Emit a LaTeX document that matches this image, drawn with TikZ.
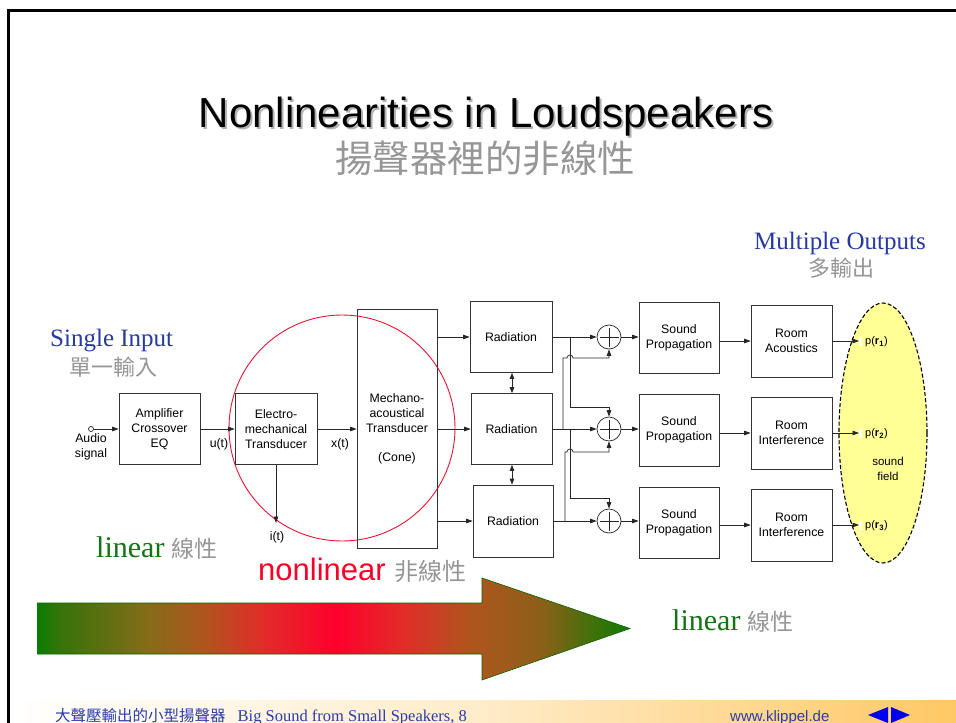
\documentclass[tikz,border=0pt]{standalone}
\usepackage{fontspec}
\setmainfont{Liberation Sans}
\newfontfamily\tmsfont{Liberation Serif}
\newfontfamily\cjkfont{Noto Sans CJK TC}
\usetikzlibrary{arrows.meta,shapes.geometric}
\definecolor{titleblue}{RGB}{38,58,160}
\definecolor{cjkgray}{RGB}{150,150,150}
\definecolor{lingreen}{RGB}{20,115,20}
\definecolor{nlred}{RGB}{250,0,40}
\definecolor{circred}{RGB}{235,20,50}
\definecolor{fieldyellow}{RGB}{255,255,150}
\definecolor{footorange}{RGB}{255,200,100}
\definecolor{footblue}{RGB}{40,60,170}
\definecolor{navblue}{RGB}{0,0,240}
\definecolor{agreen}{RGB}{10,125,0}
\definecolor{ag2}{RGB}{55,115,10}
\definecolor{aolive}{RGB}{135,108,25}
\definecolor{abrown}{RGB}{175,85,30}
\definecolor{ared1}{RGB}{225,45,40}
\definecolor{ared}{RGB}{255,0,45}
\definecolor{ahead}{RGB}{140,95,25}
\pgfdeclarehorizontalshading{bigarrowshade}{100bp}{color(0bp)=(agreen); color(25bp)=(agreen); color(27bp)=(ag2); color(34.5bp)=(aolive); color(39bp)=(abrown); color(44bp)=(ared1); color(50.2bp)=(ared); color(56bp)=(ared1); color(61.5bp)=(abrown); color(67.5bp)=(ahead); color(75bp)=(agreen); color(100bp)=(agreen)}
\newcommand{\boxfont}{\fontsize{12.3}{15.3}\selectfont}
\newcommand{\shadowtext}[1]{\rlap{\raisebox{-2pt}{\hspace{2pt}\textcolor{black!30}{#1}}}#1}
\begin{document}
\begin{tikzpicture}[x=1pt,y=-1pt,
  box/.style={draw=black!80, line width=0.7pt, minimum width=81pt, minimum height=71pt, align=center, font=\boxfont, inner sep=1pt},
  lbl/.style={font=\boxfont, align=center, inner sep=0pt},
  arr/.style={-{Triangle[length=6.5pt,width=4.5pt]}, line width=0.7pt, draw=black!85},
  dblarr/.style={{Triangle[length=6pt,width=4.5pt]}-{Triangle[length=6pt,width=4.5pt]}, line width=0.7pt, draw=black!85},
  ln/.style={line width=0.7pt, draw=black!85},
  sumc/.style={circle, draw=black!85, line width=0.7pt, minimum size=24pt, inner sep=0pt}]
\useasboundingbox (0,0) rectangle (956,723);
\fill[white] (0,0) rectangle (956,723);
% footer band
\shade[left color=white, right color=footorange, middle color=footorange!35] (10,700) rectangle (956,723);
% frame
\draw[line width=3pt, black] (8,723) -- (8,10) -- (956,10);

% title
\node[font=\fontsize{42}{44}\selectfont, anchor=base, inner sep=0pt] (title) at (486,127) {\shadowtext{Nonlinearities in Loudspeakers}};
\node[font=\cjkfont\fontsize{37.5}{38}\selectfont, text=cjkgray] (subtitle) at (485,158) {揚聲器裡的非線性};

% side headings
\node[anchor=base west, inner sep=0pt, font=\tmsfont\fontsize{25}{26}\selectfont, text=titleblue] (mo) at (754,249) {Multiple Outputs};
\node[font=\cjkfont\fontsize{22}{23}\selectfont, text=cjkgray] (mozh) at (841,268) {多輸出};
\node[anchor=base west, inner sep=0pt, font=\tmsfont\fontsize{25}{26}\selectfont, text=titleblue] (si) at (50,346) {Single Input};
\node[font=\cjkfont\fontsize{22}{23}\selectfont, text=cjkgray] (sizh) at (113,367) {單一輸入};

% red circle
\draw[circred, line width=0.9pt] (342,428) circle [radius=113];

% input chain
\node[circle, draw=black!85, line width=0.7pt, minimum size=5pt, inner sep=0pt] (ain) at (91,429) {};
\node[lbl] (ainl) at (91,447) {Audio\\signal};
\node[box] (amp) at (159.5,429) {Amplifier\\Crossover\\EQ};
\node[box, minimum width=82pt] (emt) at (276,429) {Electro-\\mechanical\\Transducer};
\node[box, minimum width=80pt, minimum height=239pt] (mat) at (397,428.5) {Mechano-\\acoustical\\Transducer\\[13pt](Cone)};
\draw[arr] (ain) -- (amp);
\draw[arr] (amp) -- (emt);
\draw[arr] (emt) -- (mat.west |- emt.east);
\node[lbl] (ul) at (219,444) {u(t)};
\node[lbl] (xl) at (340,444) {x(t)};
\node[lbl] (il) at (277,537) {i(t)};
\coordinate (itip) at (276,523);
\draw[arr] (emt.south) -- (itip);

% radiation
\node[box, minimum width=82pt] (R1) at (511,337) {Radiation};
\node[box, minimum width=81pt] (R2) at (511.5,429) {Radiation};
\node[box, minimum width=80pt, minimum height=72pt] (R3) at (513,521) {Radiation};
\draw[arr] (mat.east |- R1.west) -- (R1.west);
\draw[arr] (mat.east |- R2.west) -- (R2.west);
\draw[arr] (mat.east |- R3.west) -- (R3.west);
\draw[dblarr] (R1.south -| 512,0) -- (R2.north -| 512,0);
\draw[dblarr] (R2.south -| 512,0) -- (R3.north -| 512,0);

% summing points
\node[sumc] (s1) at (609,337) {};
\node[sumc] (s2) at (609,429) {};
\node[sumc] (s3) at (609,521) {};
\foreach \s in {s1,s2,s3}{
  \draw[ln] ([xshift=-9.5pt]\s.center) -- ([xshift=9.5pt]\s.center);
  \draw[ln] ([yshift=-9.5pt]\s.center) -- ([yshift=9.5pt]\s.center);
}
\draw[arr] (R1.east) -- (s1.west);
\draw[arr] (R2.east) -- (s2.west);
\draw[arr] (R3.east) -- (s3.west);
\coordinate (b1) at (570,337);
\coordinate (b2a) at (563,429);
\coordinate (b2b) at (570,429);
\coordinate (b3) at (565,521);
\draw[arr] (b1) -- (570,407) -| (s2.north);
\draw[arr] (b2b) -- (570,498) -| (s3.north);
\draw[arr] (b2a) -- (563,358) -- (567,358) arc[start angle=180, end angle=360, radius=3] -| (s1.south);
\draw[arr] (b3) -- (565,452) -- (567,452) arc[start angle=180, end angle=360, radius=3] -| (s2.south);

% sound propagation
\node[box, minimum width=80pt] (SP1) at (679,337.5) {Sound\\Propagation};
\node[box, minimum width=80pt, minimum height=72pt] (SP2) at (679,430) {Sound\\Propagation};
\node[box, minimum width=80pt] (SP3) at (679,522.5) {Sound\\Propagation};
\draw[arr] (s1.east) -- (SP1.west |- s1.east);
\draw[arr] (s2.east) -- (SP2.west |- s2.east);
\draw[arr] (s3.east) -- (SP3.west |- s3.east);

% room
\node[box, minimum height=72pt] (RA) at (791.5,341) {Room\\Acoustics};
\node[box, minimum height=72pt] (RI2) at (791.5,433) {Room\\Interference};
\node[box, minimum height=72pt] (RI3) at (791.5,525) {Room\\Interference};
\draw[arr] (SP1.east |- RA.west) -- (RA.west);
\draw[arr] (SP2.east |- RI2.west) -- (RI2.west);
\draw[arr] (SP3.east |- RI3.west) -- (RI3.west);

% sound field
\draw[fill=fieldyellow, line width=1.1pt, dash pattern=on 4pt off 2.2pt] (883,433) ellipse [x radius=44, y radius=130];
\coordinate (p1) at (859,341);
\coordinate (p2) at (859,433);
\coordinate (p3) at (859,525);
\draw[arr] (RA.east) -- (p1);
\draw[arr] (RI2.east) -- (p2);
\draw[arr] (RI3.east) -- (p3);
\foreach \p in {p1,p2,p3}{ \fill[white] ([yshift=-4.5pt]\p) rectangle ([xshift=3pt,yshift=4.5pt]\p); }
\node[anchor=west, lbl, font=\fontsize{11}{13}\selectfont] (pr1) at (865,342) {p(\textbf{r}\textsubscript{\textbf{1}})};
\node[anchor=west, lbl, font=\fontsize{11}{13}\selectfont] (pr2) at (865,434) {p(\textbf{r}\textsubscript{\textbf{2}})};
\node[anchor=west, lbl, font=\fontsize{11}{13}\selectfont] (pr3) at (865,526) {p(\textbf{r}\textsubscript{\textbf{3}})};
\node[lbl, font=\fontsize{11.5}{14.5}\selectfont] (sf) at (888,469) {sound\\field};

% big arrow
\shade[shading=bigarrowshade] (37,603) -- (482,603) -- (482,578) -- (630,628.5) -- (482,680) -- (482,654) -- (37,654) -- cycle;
\draw[line width=0.6pt, draw=agreen!80!black] (482,603) -- (482,578) -- (630,628.5) -- (482,680) -- (482,654) -- (37,654) (37,603) -- (482,603);

% linear / nonlinear labels
\node[anchor=base west, inner sep=0pt] (lin1) at (96,557) {\color{lingreen}\tmsfont\fontsize{30}{30}\selectfont linear\ \color{cjkgray}\cjkfont\fontsize{23}{23}\selectfont 線性};
\node[anchor=base west, inner sep=0pt] (nonlin) at (258,580) {\color{nlred}\fontsize{31}{31}\selectfont nonlinear\ \color{cjkgray}\cjkfont\fontsize{24}{24}\selectfont 非線性};
\node[anchor=base west, inner sep=0pt] (lin2) at (672,630) {\color{lingreen}\tmsfont\fontsize{30}{30}\selectfont linear\ \color{cjkgray}\cjkfont\fontsize{23}{23}\selectfont 線性};

% footer
\node[anchor=base west, inner sep=0pt, text=footblue] (foot) at (55,721) {{\cjkfont\fontsize{15.5}{16}\selectfont 大聲壓輸出的小型揚聲器}\hspace{12pt}{\tmsfont\fontsize{16.5}{16}\selectfont Big Sound from Small Speakers, 8}};
\node[anchor=base west, inner sep=0pt, text=footblue, font=\fontsize{15}{16}\selectfont] (url) at (730,721) {www.klippel.de};
\fill[navblue] (868,715) -- (888,707) -- (888,723) -- cycle;
\fill[navblue] (910,715) -- (891,707) -- (891,723) -- cycle;
\end{tikzpicture}
\end{document}
